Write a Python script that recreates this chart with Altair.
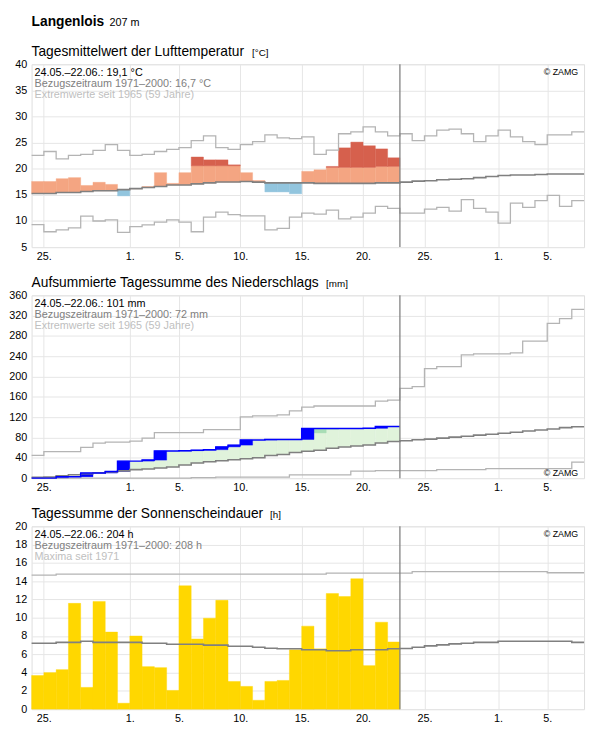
import json
import altair as alt
import pandas as pd

FONT = "Liberation Sans"
W, H = 562, 186

# ---------------- shared x axis (day index, 0 = 24.05.) ----------------
x_domain = [0, 45]
x_tick_days = [1, 8, 12, 17, 22, 27, 32, 38, 42]
x_tick_labels = ["25.", "1.", "5.", "10.", "15.", "20.", "25.", "1.", "5."]

# ---------------- temperature (°C) ----------------
temp_obs = [17.56, 17.56, 18.1, 18.3, 16.8, 17.4, 17.0, 14.8, 16.2, 16.6,
            19.25, 17.2, 19.25, 22.25, 21.7, 21.7, 20.75, 19.25, 17.75, 15.56,
            15.56, 15.2, 19.5, 19.8, 20.44, 24.0, 25.1, 24.4, 23.8, 22.1]
temp_warm = [None, None, None, None, None, None, None, None, None, None,
             None, None, None, 20.56, 20.56, 20.56, 20.56, None, None, None,
             None, None, None, None, 20.25, 20.25, 20.25, 20.25, 20.44, 20.44]
temp_norm = [15.25, 15.25, 15.44, 15.44, 15.63, 15.8, 15.8, 16.0, 16.2, 16.4,
             16.6, 16.9, 16.9, 17.1, 17.3, 17.45, 17.45, 17.56, 17.44, 17.3,
             17.3, 17.3, 17.3, 17.2, 17.2, 17.2, 17.2, 17.2, 17.3, 17.3,
             17.44, 17.63, 17.7, 17.9, 18.0, 18.1, 18.3, 18.5, 18.7, 18.8,
             18.8, 18.9, 19.0, 19.0, 19.0]
temp_max = [22.56, 23.3, 21.9, 22.56, 22.75, 23.5, 24.6, 23.5, 22.56, 22.75,
            23.3, 23.7, 24.06, 25.4, 26.3, 24.06, 23.7, 24.6, 25.2, 26.5,
            25.9, 25.75, 26.1, 22.75, 23.56, 26.7, 27.06, 28.0, 27.06, 26.3,
            26.7, 25.4, 26.3, 27.4, 27.6, 26.7, 25.2, 26.3, 27.4, 26.1,
            25.2, 24.6, 26.5, 26.5, 27.06]
temp_min = [9.3, 7.94, 8.3, 8.7, 10.94, 10.0, 10.2, 7.8, 8.9, 9.25,
            9.8, 10.2, 9.8, 7.94, 10.75, 11.7, 11.2, 11.0, 11.0, 8.3,
            8.6, 10.75, 11.5, 11.3, 12.06, 10.4, 10.75, 11.5, 12.8, 12.4,
            11.5, 11.5, 12.25, 12.6, 11.9, 14.1, 12.4, 11.7, 9.6, 13.4,
            12.6, 13.9, 14.9, 12.8, 13.9]
temp_text = ["24.05.–22.06.: 19,1 °C", "Bezugszeitraum 1971–2000: 16,7 °C",
             "Extremwerte seit 1965 (59 Jahre)"]

# ---------------- precipitation (mm, cumulative) ----------------
prec_obs = [0, 0, 2.5, 2.5, 10, 10, 13, 33.5, 33.5, 35.5,
            53.5, 53.5, 54, 55, 56, 61.5, 65, 75, 75, 76,
            76, 76, 97.5, 97.5, 97.5, 97.5, 97.5, 98, 101.5, 101.5]
prec_mid = [None, None, None, None, None, None, None, None, None, None,
            None, None, None, None, None, None, None, None, None, None,
            None, None, None, 89, 96, None, None, None, None, None]
prec_norm = [1.5, 2, 4.6, 6.5, 8.5, 10.4, 12.3, 14.3, 16.8, 18.1,
             20, 22, 25.8, 29.7, 32.3, 34.3, 36.2, 38.1, 40, 44.6,
             46.5, 50.4, 53, 54.9, 58.8, 61.4, 63.3, 65.2, 69, 72,
             73.6, 75.5, 76.8, 78.8, 80.7, 82.6, 84.6, 86.5, 88.5, 90.4,
             92.9, 94.8, 96.8, 99.4, 101.3]
prec_max = [45, 52.3, 52.3, 52.3, 60.7, 69, 71, 71, 73, 78.8,
            89.7, 89.7, 89.7, 89.7, 95.5, 95.5, 95.5, 120.6, 122.6, 122.6,
            124.6, 132.3, 140, 142, 142, 142, 142, 142, 151.7, 153.6,
            176.8, 180, 215.5, 219.4, 219.4, 242.6, 244.5, 244.5, 244.5, 246.5,
            269.7, 269.7, 304.6, 314.2, 332.3]
prec_min = [0, 0, 0, 0, 0, 0, 0, 0, 0, 0,
            0, 0, 0, 1.0, 1.0, 2, 2, 2, 2, 2,
            2, 6.5, 6.5, 6.5, 6.5, 6.5, 13.6, 13.6, 14.9, 14.9,
            14.9, 14.9, 14.9, 16.8, 16.8, 16.8, 16.8, 18.8, 18.8, 18.8,
            18.8, 18.8, 18.8, 18.8, 31.7]
prec_text = ["24.05.–22.06.: 101 mm", "Bezugszeitraum 1971–2000: 72 mm",
             "Extremwerte seit 1965 (59 Jahre)"]

# ---------------- sunshine (h) ----------------
sun_obs = [3.68, 4.0, 4.32, 11.57, 2.38, 11.78, 8.43, 0.65, 8.0, 4.65,
           4.54, 2.05, 13.5, 7.68, 9.95, 11.9, 3.03, 2.49, 0.97, 3.03,
           3.14, 6.49, 9.08, 6.6, 12.65, 12.32, 14.27, 4.76, 9.51, 7.35]
sun_norm = [7.2, 7.2, 7.3, 7.3, 7.42, 7.3, 7.3, 7.3, 7.3, 7.2,
            7.2, 7.1, 7.1, 7.1, 7.0, 7.0, 6.88, 6.88, 6.77, 6.67,
            6.6, 6.6, 6.49, 6.49, 6.38, 6.38, 6.49, 6.49, 6.49, 6.6,
            6.63, 6.77, 6.92, 7.03, 7.14, 7.2, 7.3, 7.3, 7.42, 7.42,
            7.42, 7.42, 7.42, 7.42, 7.3]
sun_max = [14.67, 14.67, 14.77, 14.77, 14.77, 14.77, 14.77, 14.77, 14.77, 14.77,
           14.77, 14.77, 14.77, 14.77, 14.77, 14.77, 14.77, 14.77, 14.77, 14.77,
           14.77, 14.77, 14.77, 14.77, 14.88, 14.88, 14.88, 14.88, 14.88, 14.88,
           14.88, 15.03, 15.03, 15.03, 15.03, 15.03, 15.03, 15.03, 15.03, 15.03,
           15.03, 15.03, 14.92, 14.92, 14.92]
sun_text = ["24.05.–22.06.: 204 h", "Bezugszeitraum 1971–2000: 208 h",
            "Maxima seit 1971"]

# ---------------- styling ----------------
GRID = "#e6e6e6"
NORM_C = "#808080"
EXT_C = "#b4b4b4"
TXT_C = ["#000000", "#808080", "#c0c0c0"]

label_expr = "{}[indexof({}, datum.value)]".format(json.dumps(x_tick_labels), json.dumps(x_tick_days))
xscale = alt.Scale(domain=x_domain, nice=False, zero=False)
xaxis = alt.Axis(values=x_tick_days, labelExpr=label_expr, title=None, grid=True,
                 gridColor=GRID, gridWidth=1, ticks=False, tickSize=0, domain=False,
                 labelPadding=4, labelFontSize=11, labelFont=FONT, labelColor="#000",
                 labelFlush=False, labelOverlap=False)


def yaxis(values):
    return alt.Axis(values=values, title=None, grid=True, gridColor=GRID, gridWidth=1,
                    ticks=False, tickSize=0, domain=False, labelPadding=5, labelFontSize=11,
                    labelFont=FONT, labelColor="#000", minExtent=23, maxExtent=23,
                    labelOverlap=False, labelFlush=False)


def step_df(values):
    rows = [{"x": i, "v": v} for i, v in enumerate(values)]
    rows.append({"x": len(values), "v": values[-1]})
    return pd.DataFrame(rows)


def rect_df(triples):
    return pd.DataFrame([{"x": d, "x2": d + 1, "y": a, "y2": b} for d, a, b in triples])


def rects(triples, color, ys, ya):
    return alt.Chart(rect_df(triples)).mark_rect(color=color, stroke=color, strokeWidth=0.4).encode(
        x=alt.X("x:Q", scale=xscale, axis=xaxis), x2="x2:Q",
        y=alt.Y("y:Q", scale=ys, axis=ya), y2="y2:Q")


def steps(values, color, width, ys, ya):
    return alt.Chart(step_df(values)).mark_line(interpolate="step-after", color=color,
                                                strokeWidth=width).encode(
        x=alt.X("x:Q", scale=xscale, axis=xaxis),
        y=alt.Y("v:Q", scale=ys, axis=ya))


def txt(text, x, y, color="#000", size=11, align="left", weight="normal"):
    return alt.Chart(pd.DataFrame({"t": [text]})).mark_text(
        align=align, baseline="alphabetic", font=FONT, fontSize=size, color=color,
        fontWeight=weight).encode(x=alt.value(x), y=alt.value(y), text="t:N")


def split_rule(n):
    return alt.Chart(pd.DataFrame({"d": [n]})).mark_rule(color=NORM_C, strokeWidth=1.3).encode(
        x=alt.X("d:Q", scale=xscale, axis=xaxis))


def info_lines(lines):
    return [txt(t, 3, 12.4 + 10.8 * i, TXT_C[i]) for i, t in enumerate(lines)]


def heading(text, unit, unit_x):
    return [txt(text, 0, -8, "#000", 14), txt(unit, unit_x, -8, "#000", 10)]


# ---------------- panel 1: temperature ----------------
ts = alt.Scale(domain=[5, 40], nice=False, zero=False)
ta = yaxis([5, 10, 15, 20, 25, 30, 35, 40])
n_obs = len(temp_obs)
warm_light, warm_dark, cold = [], [], []
for d in range(n_obs):
    o, nrm, w = temp_obs[d], temp_norm[d], temp_warm[d]
    if o >= nrm:
        warm_light.append((d, nrm, w if w is not None else o))
        if w is not None:
            warm_dark.append((d, w, o))
    else:
        cold.append((d, o, nrm))

temp = alt.layer(
    rects(warm_light, "#f4a582", ts, ta),
    rects(warm_dark, "#d6604d", ts, ta),
    rects(cold, "#92c5de", ts, ta),
    steps(temp_max, EXT_C, 1.3, ts, ta),
    steps(temp_min, EXT_C, 1.3, ts, ta),
    steps(temp_norm, NORM_C, 1.6, ts, ta),
    split_rule(n_obs),
    *info_lines(temp_text),
    txt("© ZAMG", 556, 11, "#000", 9, "right"),
    *heading("Tagesmittelwert der Lufttemperatur", "[°C]", 224.3),
    txt("Langenlois", 0, -39.3, "#000", 14, "left", "bold"),
    txt("207 m", 79.3, -39.3, "#000", 11),
).properties(width=W, height=H)

# ---------------- panel 2: precipitation ----------------
ps = alt.Scale(domain=[0, 360], nice=False, zero=False)
pa = yaxis(list(range(0, 361, 40)))
green, mid, blue = [], [], []
prev = 0
for d in range(len(prec_obs)):
    o, nrm = prec_obs[d], prec_norm[d]
    if o > nrm:
        green.append((d, nrm, o))
    if prec_mid[d] is not None:
        mid.append((d, prec_mid[d], o))
    if o > prev:
        blue.append((d, prev, o))
    prev = o

precip = alt.layer(
    rects(green, "#e0f3db", ps, pa),
    rects(mid, "#a8ddb5", ps, pa),
    rects(blue, "#0000ff", ps, pa),
    steps(prec_max, EXT_C, 1.3, ps, pa),
    steps(prec_min, EXT_C, 1.3, ps, pa),
    steps(prec_norm, NORM_C, 1.6, ps, pa),
    steps(prec_obs, "#0000ff", 1.5, ps, pa),
    split_rule(len(prec_obs)),
    *info_lines(prec_text),
    txt("© ZAMG", 556, 184, "#000", 9, "right"),
    *heading("Aufsummierte Tagessumme des Niederschlags", "[mm]", 299.6),
).properties(width=W, height=H)

# ---------------- panel 3: sunshine ----------------
ss = alt.Scale(domain=[0, 20], nice=False, zero=False)
sa = yaxis(list(range(0, 21, 2)))
sun = alt.layer(
    rects([(d, 0, v) for d, v in enumerate(sun_obs)], "#ffd700", ss, sa),
    steps(sun_max, EXT_C, 1.3, ss, sa),
    steps(sun_norm, NORM_C, 1.6, ss, sa),
    split_rule(len(sun_obs)),
    *info_lines(sun_text),
    txt("© ZAMG", 556, 11, "#000", 9, "right"),
    *heading("Tagessumme der Sonnenscheindauer", "[h]", 242.6),
).properties(width=W, height=H)

chart = alt.vconcat(temp, precip, sun, spacing=13).properties(
    padding={"left": 0, "top": 0, "right": 0, "bottom": 0}
).configure_view(stroke="#000", strokeWidth=1.3).configure(font=FONT, background="white")

chart.save("out.html", embed_options={"renderer": "svg", "actions": False})
